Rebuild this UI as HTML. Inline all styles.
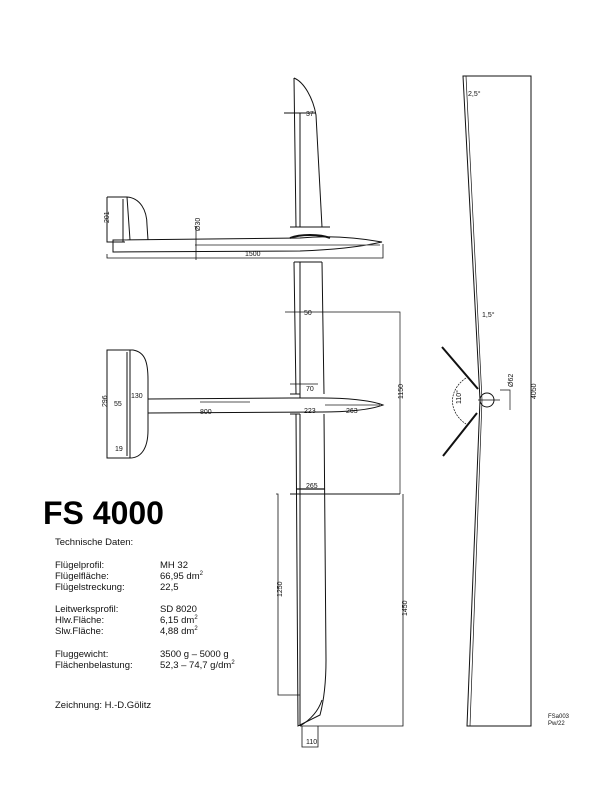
<!DOCTYPE html>
<html><head><meta charset="utf-8"><style>
html,body{margin:0;padding:0;background:#fff;}
svg{display:block;}
text{font-family:"Liberation Sans",sans-serif;fill:#111;}
</style></head><body>
<svg width="600" height="800" viewBox="0 0 600 800" xmlns="http://www.w3.org/2000/svg">
<g fill="none" stroke="#111" stroke-width="1">
<!-- upper wing (top view, upper half) -->
<path d="M294,78 C304,82 313,98 316,115 L322,227 M294,78 L296,227 M300,113 L300,227 M284,113 L316,113 M290,227 L330,227" />
<!-- side fuselage -->
<path d="M113,240 L300,238 C330,235 360,238 382,242 C360,247 330,250 300,251 L113,252 Z" />
<path d="M195,245 L380,245" stroke="#555"/>
<path d="M290,238 C300,234 320,234 330,238" stroke-width="2"/>
<!-- fin -->
<path d="M107,197 L127,197 C140,198 147,210 147,225 L148,240 M107,197 L107,242 L125,242 M127,197 L130,240 M123,199 L123,242"/>
<path d="M107,254 L107,258 L383,258 L383,244" stroke-width="0.8"/>
<path d="M196,226 L196,260" stroke-width="0.8"/>
<!-- lower wing -->
<path d="M294,262 L296,394 M322,262 L324,394 M300,262 L300,394 M294,262 L322,262"/>
<path d="M296,414 L298,726 L320,715 C324,700 326,680 326,660 L324,414 M300,414 L300,726 M290,494 L400,494" />
<path d="M300,726 C310,720 318,712 322,700" />
<!-- top-view fuselage -->
<path d="M148,399 L290,398 L322,398 C345,398 370,400 383,405 C370,410 345,412 322,412 L148,413 Z"/>
<path d="M200,402 L250,402 M325,405 L380,405" stroke="#555"/>
<path d="M290,394 L300,394 L300,398 M290,414 L300,414"/>
<!-- tail top view -->
<path d="M107,350 L133,350 C145,352 148,362 148,380 L148,430 C148,450 140,458 130,458 L107,458 Z M130,350 L130,458 M127,352 L127,456"/>
<!-- dimension lines -->
<path d="M285,312 L400,312 L400,494" stroke-width="0.7"/>
<path d="M276,494 L278,494 L278,695 L300,695" stroke-width="0.8"/>
<path d="M300,726 L403,726 L403,494" stroke-width="0.8"/>
<path d="M302,726 L302,747 L318,747 L318,726" stroke-width="0.8"/>
<path d="M296,489 L325,489" stroke-width="1.2"/>
<path d="M290,384 L318,384" stroke-width="0.7"/>
<!-- front view -->
<path d="M463,76 L531,76 L531,726 L467,726 L480,400 L463,76 Z" stroke-width="1"/>
<path d="M466,76 L482,400 L470,726" stroke-width="0.7"/>
<path d="M442,347 L478,389 M443,456 L477,413" stroke-width="2"/>
<circle cx="487" cy="400" r="7"/>
<path d="M478,400 L500,400 M500,390 L510,390 L510,410" stroke-width="0.7"/>
<path d="M466,378 C448,390 448,412 466,424" stroke-width="0.7" stroke-dasharray="2,1"/>
</g>
<g font-size="7">
<text x="245" y="256">1500</text>
<text x="100" y="226" transform="rotate(-90 103 220)">201</text>
<text x="193" y="232" transform="rotate(-90 196 228)">Ø30</text>
<text x="306" y="116">37</text>
<text x="304" y="315">50</text>
<text x="306" y="391">70</text>
<text x="200" y="414">800</text>
<text x="304" y="413">223</text>
<text x="346" y="413">263</text>
<text x="306" y="488">265</text>
<text x="306" y="744">110</text>
<text x="394" y="400" transform="rotate(-90 398 395)">1150</text>
<text x="398" y="617" transform="rotate(-90 402 612)">1450</text>
<text x="273" y="598" transform="rotate(-90 277 593)">1250</text>
<text x="100" y="408" transform="rotate(-90 103 404)">296</text>
<text x="114" y="406">55</text>
<text x="131" y="398">130</text>
<text x="115" y="451">19</text>
<text x="527" y="400" transform="rotate(-90 531 395)">4050</text>
<text x="504" y="388" transform="rotate(-90 508 383)">Ø62</text>
<text x="452" y="405" transform="rotate(-90 456 400)">110°</text>
<text x="468" y="96">2,5°</text>
<text x="482" y="317">1,5°</text>
<text x="548" y="718" font-size="6">FSa003</text>
<text x="548" y="725" font-size="6">Pw/22</text>
</g>
<text x="43" y="524" font-size="32" font-weight="bold" style="fill:#000">FS 4000</text>
<g font-size="9.5">
<text x="55" y="545">Technische Daten:</text>
<text x="55" y="568">Flügelprofil:</text><text x="160" y="568">MH 32</text>
<text x="55" y="579">Flügelfläche:</text><text x="160" y="579">66,95 dm<tspan dy="-4" font-size="6">2</tspan></text>
<text x="55" y="590">Flügelstreckung:</text><text x="160" y="590">22,5</text>
<text x="55" y="612">Leitwerksprofil:</text><text x="160" y="612">SD 8020</text>
<text x="55" y="623">Hlw.Fläche:</text><text x="160" y="623">6,15 dm<tspan dy="-4" font-size="6">2</tspan></text>
<text x="55" y="634">Slw.Fläche:</text><text x="160" y="634">4,88 dm<tspan dy="-4" font-size="6">2</tspan></text>
<text x="55" y="657">Fluggewicht:</text><text x="160" y="657">3500 g – 5000 g</text>
<text x="55" y="668">Flächenbelastung:</text><text x="160" y="668">52,3 – 74,7 g/dm<tspan dy="-4" font-size="6">2</tspan></text>
<text x="55" y="708">Zeichnung:  H.-D.Gölitz</text>
</g>
</svg>
</body></html>
